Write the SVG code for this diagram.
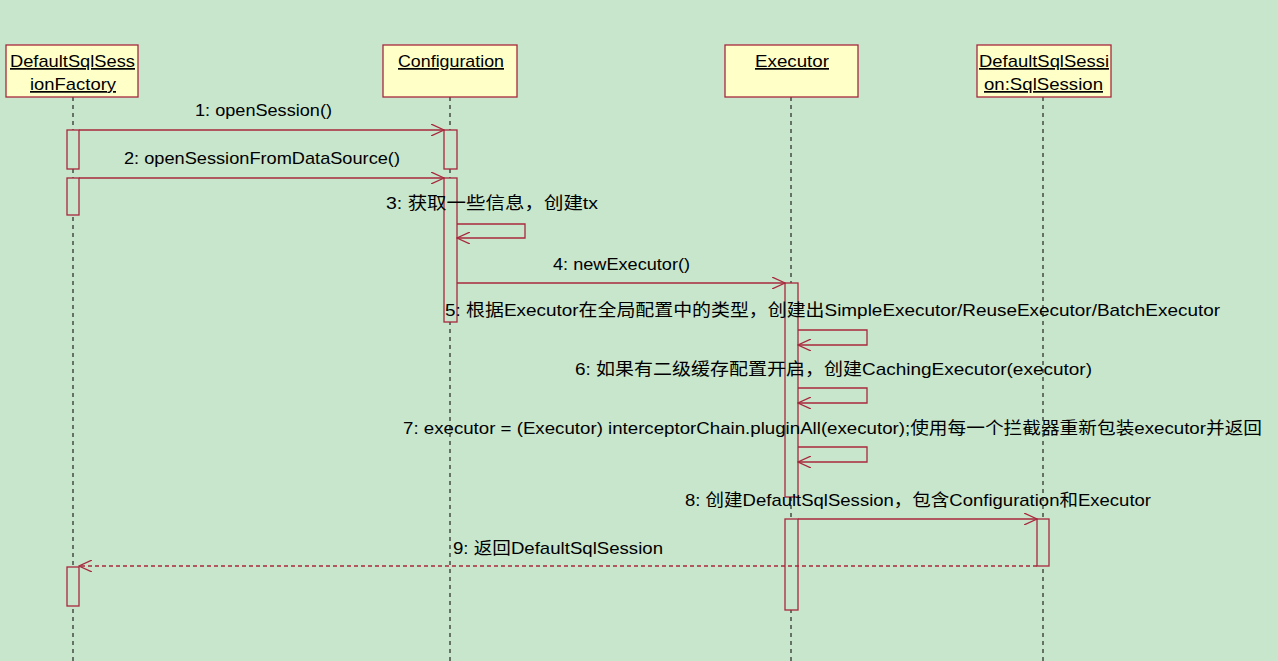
<svg xmlns="http://www.w3.org/2000/svg" width="1278" height="661" viewBox="0 0 1278 661">
<style>
.box{fill:#ffffc8;stroke:#a8283c;stroke-width:1.3}
.act{fill:#c8e6cc;stroke:#a8283c;stroke-width:1.3}
.life{stroke:#000;stroke-width:1;stroke-dasharray:4,4}
.msg{fill:none;stroke:#a8283c;stroke-width:1.3}
.t{font-family:"Liberation Sans","Noto Sans CJK SC",sans-serif;font-size:17px;fill:#000}
.h{text-decoration:underline}
</style>
<defs>
<marker id="a" markerWidth="14" markerHeight="12" refX="13" refY="6" orient="auto" markerUnits="userSpaceOnUse">
<path d="M0,0 L13,6 L0,12" fill="none" stroke="#a8283c" stroke-width="1.3"/>
</marker>
</defs>
<rect width="1278" height="661" fill="#c8e6cc"/>
<g id="lifelines">
<line class="life" x1="73" y1="97" x2="73" y2="661"/>
<line class="life" x1="450" y1="97" x2="450" y2="661"/>
<line class="life" x1="791" y1="97" x2="791" y2="661"/>
<line class="life" x1="1043" y1="97" x2="1043" y2="661"/>
</g>
<g id="n1"><rect class="box" x="6" y="45" width="132" height="52"/><text class="t h" x="10" y="67" textLength="125" lengthAdjust="spacingAndGlyphs">DefaultSqlSess</text><text class="t h" x="30" y="90" textLength="86" lengthAdjust="spacingAndGlyphs">ionFactory</text></g>
<g id="n2"><rect class="box" x="383" y="45" width="134" height="52"/><text class="t h" x="398" y="67" textLength="106" lengthAdjust="spacingAndGlyphs">Configuration</text></g>
<g id="n3"><rect class="box" x="725" y="45" width="133" height="52"/><text class="t h" x="755" y="67" textLength="74" lengthAdjust="spacingAndGlyphs">Executor</text></g>
<g id="n4"><rect class="box" x="977" y="45" width="134" height="52"/><text class="t h" x="979" y="67" textLength="130" lengthAdjust="spacingAndGlyphs">DefaultSqlSessi</text><text class="t h" x="984" y="90" textLength="119" lengthAdjust="spacingAndGlyphs">on:SqlSession</text></g>
<g id="activations">
<rect class="act" x="67" y="130" width="12" height="39"/>
<rect class="act" x="67" y="178" width="12" height="37"/>
<rect class="act" x="67" y="567" width="12" height="39"/>
<rect class="act" x="444" y="130" width="13" height="39"/>
<rect class="act" x="444" y="178" width="13" height="144"/>
<rect class="act" x="785" y="283" width="13" height="214"/>
<rect class="act" x="785" y="519" width="13" height="91"/>
<rect class="act" x="1037" y="519" width="12" height="47"/>
</g>
<g id="connectors">
<line class="msg" x1="79" y1="130" x2="444" y2="130" marker-end="url(#a)"/>
<line class="msg" x1="79" y1="178" x2="444" y2="178" marker-end="url(#a)"/>
<path class="msg" d="M457,224 H525 V238 H457" marker-end="url(#a)"/>
<line class="msg" x1="457" y1="283" x2="785" y2="283" marker-end="url(#a)"/>
<path class="msg" d="M798,330 H867 V345 H798" marker-end="url(#a)"/>
<path class="msg" d="M798,388 H867 V403 H798" marker-end="url(#a)"/>
<path class="msg" d="M798,447 H867 V462 H798" marker-end="url(#a)"/>
<line class="msg" x1="798" y1="519" x2="1037" y2="519" marker-end="url(#a)"/>
<line class="msg" x1="1037" y1="566" x2="79" y2="566" stroke-dasharray="4,3" marker-end="url(#a)"/>
</g>
<g id="labels">
<text class="t" x="195" y="116" textLength="137" lengthAdjust="spacingAndGlyphs">1: openSession()</text>
<text class="t" x="124" y="164" textLength="276" lengthAdjust="spacingAndGlyphs">2: openSessionFromDataSource()</text>
<text class="t" x="386" y="209" textLength="212" lengthAdjust="spacingAndGlyphs">3: 获取一些信息，创建tx</text>
<text class="t" x="553" y="270" textLength="137" lengthAdjust="spacingAndGlyphs">4: newExecutor()</text>
<text class="t" x="445" y="316" textLength="775" lengthAdjust="spacingAndGlyphs">5: 根据Executor在全局配置中的类型，创建出SimpleExecutor/ReuseExecutor/BatchExecutor</text>
<text class="t" x="575" y="375" textLength="517" lengthAdjust="spacingAndGlyphs">6: 如果有二级缓存配置开启，创建CachingExecutor(executor)</text>
<text class="t" x="403" y="434" textLength="859" lengthAdjust="spacingAndGlyphs">7: executor = (Executor) interceptorChain.pluginAll(executor);使用每一个拦截器重新包装executor并返回</text>
<text class="t" x="685" y="506" textLength="466" lengthAdjust="spacingAndGlyphs">8: 创建DefaultSqlSession，包含Configuration和Executor</text>
<text class="t" x="453" y="554" textLength="210" lengthAdjust="spacingAndGlyphs">9: 返回DefaultSqlSession</text>
</g>
</svg>
